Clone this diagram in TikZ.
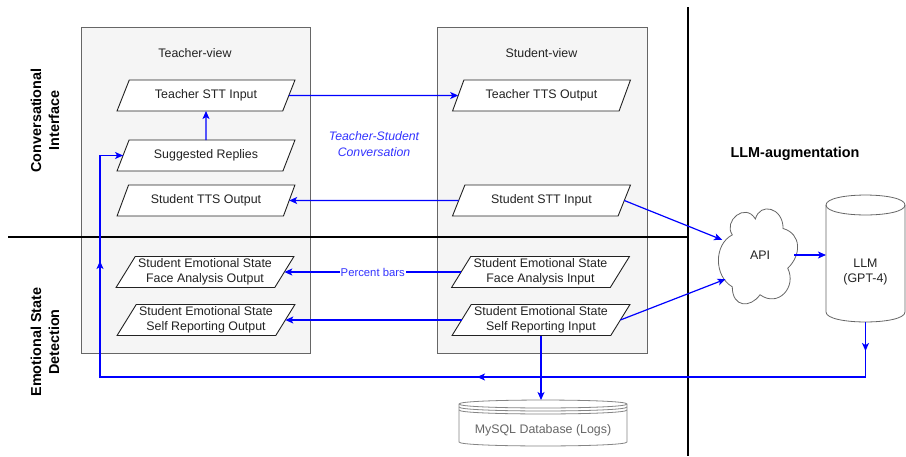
\documentclass[tikz,border=0pt]{standalone}
\usepackage{fontspec}
\setmainfont{Liberation Sans}
\usetikzlibrary{shapes.geometric,shapes.symbols,arrows.meta}
\definecolor{arrblue}{HTML}{0000FF}
\definecolor{txtblue}{HTML}{3333FF}
\definecolor{boxfill}{HTML}{F5F5F5}
\definecolor{boxdraw}{HTML}{666666}
\definecolor{txtdark}{HTML}{222222}
\begin{document}
\begin{tikzpicture}[x=1pt,y=-1pt,
  para/.style={trapezium, trapezium left angle=56, trapezium right angle=124,
    trapezium stretches=true, draw=txtdark, fill=white, line width=0.9pt,
    minimum width=178pt, minimum height=31pt, inner xsep=2pt, inner ysep=0.5pt,
    outer sep=0pt, align=center, text=txtdark, font=\fontsize{12.4}{15.5}\selectfont},
  view/.style={draw=boxdraw, fill=boxfill, line width=0.8pt, inner sep=0pt},
  viewlabel/.style={text=txtdark, font=\fontsize{12.4}{15}\selectfont},
  sect/.style={text=black, font=\bfseries\fontsize{14.4}{18}\selectfont, align=center},
  sepline/.style={draw=black, line width=1.8pt},
  conn/.style={draw=arrblue, line width=1.2pt},
  arr/.style={conn, -{Stealth[length=8pt,width=7pt,inset=2pt]}},
  shapeline/.style={draw=boxdraw, fill=white, line width=0.8pt},
  plain/.style={inner sep=0pt, outer sep=0pt}
]
\useasboundingbox (0,0) rectangle (906,456);

% container boxes
\node[view, minimum width=229pt, minimum height=326pt] (tview) at (195.5,190) {};
\node[view, minimum width=210pt, minimum height=326pt] (sview) at (542,190) {};
\node[viewlabel] (tviewlbl) at (195,53) {Teacher-view};
\node[viewlabel] (sviewlbl) at (541.5,53) {Student-view};

% separator lines
\coordinate (h1) at (8,237);
\coordinate (h2) at (688,237);
\coordinate (v1) at (688,7);
\coordinate (v2) at (688,456);
\draw[sepline] (h1) -- (h2);
\draw[sepline] (v1) -- (v2);

% section titles
\node[sect, rotate=90] (convint) at (45,120.5) {Conversational\\Interface};
\node[sect, rotate=90] (emodet) at (45,342) {Emotional State\\Detection};
\node[sect] (llmaug) at (795,154) {LLM-augmentation};

% teacher view nodes
\node[para] (tstt) at (206,95.5) {Teacher STT Input};
\node[para] (sr) at (206,155.5) {Suggested Replies};
\node[para] (stts) at (206,200.5) {Student TTS Output};
\node[para] (fao) at (205,272) {Student Emotional State\\Face Analysis Output};
\node[para] (sro) at (206,320) {Student Emotional State\\Self Reporting Output};

% student view nodes
\node[para] (ttts) at (541.5,95.5) {Teacher TTS Output};
\node[para] (sstt) at (541.5,200.5) {Student STT Input};
\node[para] (fai) at (540.5,272) {Student Emotional State\\Face Analysis Input};
\node[para] (sri) at (541,320) {Student Emotional State\\Self Reporting Input};

% conversation label
\node[text=txtblue, font=\itshape\fontsize{12.3}{16}\selectfont, align=center] (conv) at (374,144) {Teacher-Student\\Conversation};

% API cloud (drawn shape) and its node
\begin{scope}[shift={(760,255)}, xscale=1.1, yscale=1.06]
\path[shapeline] (21,-25) .. controls (21,-45) and (0,-50) .. (-4.2,-34)
  .. controls (-13.44,-50) and (-33.6,-32) .. (-25.2,-19)
  .. controls (-42,-10) and (-42,20) .. (-25.2,30)
  .. controls (-25.2,50) and (-8.4,50) .. (0,37.5)
  .. controls (16.8,50) and (33.6,30) .. (25.2,12.5)
  .. controls (37.8,0) and (37.8,-20) .. (21,-25) -- cycle;
\end{scope}
\node[ellipse, inner sep=0pt, outer sep=0pt, minimum width=80pt, minimum height=96pt,
  text=txtdark, font=\fontsize{12.4}{15}\selectfont] (api) at (760,255) {API};

% LLM cylinder
\node[plain, minimum width=79pt, minimum height=127pt] (llm) at (865.5,258.5) {};
\path[shapeline] (826,205) -- (826,312) .. controls (826,325.3) and (905,325.3) .. (905,312)
  -- (905,205) .. controls (905,191.7) and (826,191.7) .. (826,205) -- cycle;
\draw[draw=boxdraw, line width=0.8pt] (826,205) .. controls (826,218.3) and (905,218.3) .. (905,205);
\node[text=txtdark, align=center, font=\fontsize{12.4}{15}\selectfont] (llmtxt) at (865.5,272.5) {LLM\\(GPT-4)};

% MySQL database
\node[plain, minimum width=168pt, minimum height=46pt] (db) at (543,423) {};
\path[draw=boxdraw!80, fill=white, line width=0.8pt] (459,404) -- (459,442) .. controls (459,447.3) and (627,447.3) .. (627,442)
  -- (627,404) .. controls (627,398.7) and (459,398.7) .. (459,404) -- cycle;
\draw[draw=boxdraw!80, line width=0.8pt] (459,404) .. controls (459,409.3) and (627,409.3) .. (627,404);
\draw[draw=boxdraw!80, line width=0.8pt] (459,407) .. controls (459,412.3) and (627,412.3) .. (627,407);
\draw[draw=boxdraw!80, line width=0.8pt] (459,410) .. controls (459,415.3) and (627,415.3) .. (627,410);
\node[text=boxdraw, font=\fontsize{12.4}{15}\selectfont] (dbtxt) at (543,430) {MySQL Database (Logs)};

% connectors
\draw[arr] (tstt.east) -- (ttts.west);
\draw[arr] (sr.north) -- (tstt.south);
\draw[arr] (sstt.west) -- (stts.east);
\draw[arr] (fai.west) -- node[fill=white, text=txtblue, inner sep=1pt, font=\fontsize{11.3}{13}\selectfont] (pbars) {Percent bars} (fao.east);
\draw[arr] (sri.west) -- (sro.east);
\draw[arr] (sri.south) -- (sri.south |- db.north);
\draw[arr] (sstt.east) -- (api);
\draw[arr] (sri.east) -- (api.215);
\draw[arr] ([xshift=-6pt]api.east) -- (api.east -| llm.west);

% LLM return path
\coordinate (r1) at (865.5,377);
\coordinate (r2) at (100,377);
\coordinate (r3) at (100,155.5);
\coordinate (m1) at (865.5,351);
\coordinate (m2) at (477,377);
\coordinate (m3) at (100,261);
\draw[conn] (llm.south) -- (r1) -- (r2) -- (r3) -- (sr.west);
\draw[arr] (llm.south) -- (m1);
\draw[arr] (r1) -- (m2);
\draw[arr] (r2) -- (m3);
\draw[arr] (r3) -- (sr.west);
\end{tikzpicture}
\end{document}
